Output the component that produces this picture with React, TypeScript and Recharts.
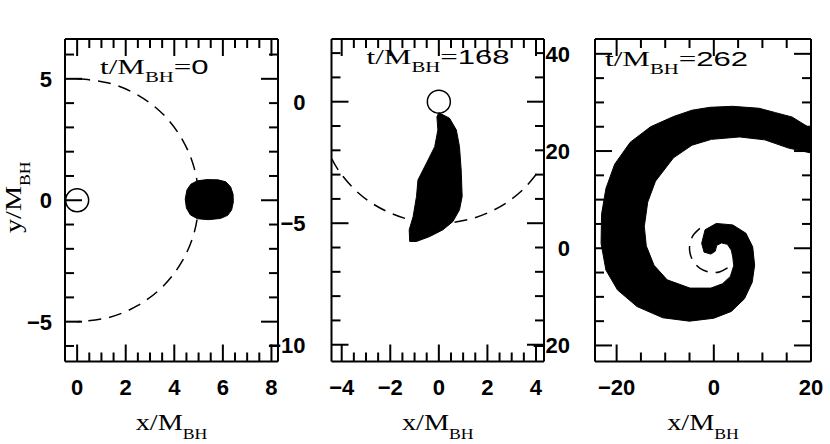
import React from "react";
import { ScatterChart, Scatter, XAxis, YAxis } from "recharts";

type Pt = { x: number; y: number };

// ---- panel 1 : t/M_BH = 0 ----
const p1Time = "0";
const p1Star: Pt[] = [
  { x: 4.45, y: 0.05 }, { x: 4.52, y: 0.42 }, { x: 4.68, y: 0.66 }, { x: 4.95, y: 0.8 },
  { x: 5.35, y: 0.85 }, { x: 5.8, y: 0.84 }, { x: 6.12, y: 0.76 }, { x: 6.32, y: 0.55 },
  { x: 6.42, y: 0.25 }, { x: 6.43, y: -0.08 }, { x: 6.36, y: -0.4 }, { x: 6.2, y: -0.62 },
  { x: 5.9, y: -0.75 }, { x: 5.4, y: -0.8 }, { x: 4.95, y: -0.76 }, { x: 4.66, y: -0.6 },
  { x: 4.5, y: -0.32 },
];
const p1Orbit: Pt[] = [
  { x: 0, y: 5 }, { x: 1.29, y: 4.83 }, { x: 2.5, y: 4.33 }, { x: 3.54, y: 3.54 },
  { x: 4.33, y: 2.5 }, { x: 4.83, y: 1.29 }, { x: 5, y: 0 }, { x: 4.83, y: -1.29 },
  { x: 4.33, y: -2.5 }, { x: 3.54, y: -3.54 }, { x: 2.5, y: -4.33 }, { x: 1.29, y: -4.83 },
  { x: 0, y: -5 },
];
const p1Hole: Pt[] = [{ x: 0, y: 0 }];
const p1XTicks = [0, 0.5, 1, 1.5, 2, 2.5, 3, 3.5, 4, 4.5, 5, 5.5, 6, 6.5, 7, 7.5, 8];
const p1XLabels = [0, 2, 4, 6, 8];
const p1YTicks = [-6, -5, -4, -3, -2, -1, 0, 1, 2, 3, 4, 5, 6];
const p1YLabels = [-5, 0, 5];

// ---- panel 2 : t/M_BH = 168 ----
const p2Time = "168";
const p2Star: Pt[] = [
  { x: 0.0, y: -0.45 }, { x: 0.44, y: -0.68 }, { x: 0.72, y: -1.16 }, { x: 0.85, y: -1.85 },
  { x: 0.92, y: -2.81 }, { x: 0.96, y: -3.9 }, { x: 0.85, y: -4.45 }, { x: 0.58, y: -4.93 },
  { x: 0.17, y: -5.27 }, { x: -0.38, y: -5.55 }, { x: -0.92, y: -5.75 }, { x: -1.2, y: -5.75 },
  { x: -1.22, y: -5.27 }, { x: -1.06, y: -4.73 }, { x: -0.92, y: -3.9 }, { x: -0.86, y: -3.22 },
  { x: -0.51, y: -2.53 }, { x: -0.17, y: -1.85 }, { x: -0.04, y: -1.16 }, { x: -0.08, y: -0.62 },
];
const p2Orbit: Pt[] = [
  { x: -4.41, y: -2.35 }, { x: -4.1, y: -2.87 }, { x: -3.54, y: -3.54 }, { x: -2.87, y: -4.1 },
  { x: -2.11, y: -4.53 }, { x: -1.29, y: -4.83 }, { x: -0.44, y: -4.98 }, { x: 0.44, y: -4.98 },
  { x: 1.29, y: -4.83 }, { x: 2.11, y: -4.53 }, { x: 2.87, y: -4.1 }, { x: 3.54, y: -3.54 },
  { x: 4.05, y: -2.94 },
];
const p2Hole: Pt[] = [{ x: 0, y: 0 }];
const p2XTicks = [-4, -3.5, -3, -2.5, -2, -1.5, -1, -0.5, 0, 0.5, 1, 1.5, 2, 2.5, 3, 3.5, 4];
const p2XLabels = [-4, -2, 0, 2, 4];
const p2YTicks = [-10, -9, -8, -7, -6, -5, -4, -3, -2, -1, 0, 1, 2];
const p2YLabels = [-10, -5, 0];

// ---- panel 3 : t/M_BH = 262 ----
const p3Time = "262";
const p3Star: Pt[] = [
  // outer edge of the arm, from the tail inwards
  { x: 20.0, y: 24.6 }, { x: 16.1, y: 27.0 }, { x: 12.7, y: 27.9 }, { x: 9.3, y: 28.8 },
  { x: 3.9, y: 29.2 }, { x: -0.8, y: 29.0 }, { x: -4.5, y: 28.4 }, { x: -8.3, y: 27.1 },
  { x: -13.0, y: 25.0 }, { x: -17.2, y: 21.8 }, { x: -20.4, y: 17.3 }, { x: -22.2, y: 12.3 },
  { x: -23.1, y: 7.0 }, { x: -23.2, y: 1.0 }, { x: -22.2, y: -4.5 }, { x: -19.8, y: -8.6 },
  { x: -15.8, y: -12.0 }, { x: -10.5, y: -14.3 }, { x: -5.0, y: -15.0 }, { x: 0, y: -14.4 },
  { x: 3.6, y: -13.0 }, { x: 6.3, y: -10.4 }, { x: 7.9, y: -7.0 }, { x: 8.4, y: -3.5 },
  { x: 8.0, y: 0.3 }, { x: 6.6, y: 3.1 }, { x: 3.9, y: 4.8 }, { x: 0.5, y: 5.1 },
  { x: -1.8, y: 3.8 }, { x: -2.5, y: 1.0 }, { x: -2.0, y: -0.8 }, { x: -0.6, y: -1.2 },
  { x: 0.3, y: -0.6 },
  // inner edge, back out to the tail
  { x: 0.6, y: 0.6 }, { x: 1.6, y: 1.1 }, { x: 2.8, y: 0.8 }, { x: 3.6, y: -0.4 },
  { x: 3.9, y: -1.8 }, { x: 4.1, y: -3.6 }, { x: 3.4, y: -5.8 }, { x: 1.8, y: -7.3 },
  { x: -0.6, y: -8.2 }, { x: -4.9, y: -8.2 }, { x: -9.6, y: -6.5 }, { x: -12.3, y: -3.5 },
  { x: -13.9, y: 0.5 }, { x: -14.3, y: 4.5 }, { x: -13.6, y: 9.5 }, { x: -12.0, y: 13.8 },
  { x: -8.3, y: 18.6 }, { x: -4.5, y: 21.2 }, { x: -0.5, y: 22.4 }, { x: 5.3, y: 22.9 },
  { x: 10.5, y: 22.3 }, { x: 15.4, y: 20.6 }, { x: 20.0, y: 19.6 },
];
const p3Orbit: Pt[] = [
  { x: -2.87, y: 4.1 }, { x: -4.1, y: 2.87 }, { x: -4.83, y: 1.29 }, { x: -4.98, y: -0.44 },
  { x: -4.53, y: -2.11 }, { x: -3.54, y: -3.54 }, { x: -2.11, y: -4.53 }, { x: -0.44, y: -4.98 },
  { x: 1.29, y: -4.83 }, { x: 3.28, y: -3.77 },
];
const p3Hole: Pt[] = [];
const p3XTicks = [-20, -15, -10, -5, 0, 5, 10, 15, 20];
const p3XLabels = [-20, 0, 20];
const p3YTicks = [-20, -15, -10, -5, 0, 5, 10, 15, 20, 25, 30, 35, 40];
const p3YLabels = [-20, 0, 20, 40];

const SERIF = "'Liberation Serif', 'Times New Roman', serif";
const SANS = "'Liberation Sans', Arial, sans-serif";
const MAJOR = 17;
const MINOR = 9;

const fmt = (v: number) => (v < 0 ? `\u2212${-v}` : String(v));

const noDot = () => <g />;

const fillPath = (p: any) => {
  const pts: { x: number; y: number }[] = p.points || [];
  if (!pts.length) return <g />;
  const d = pts.map((q, i) => `${i === 0 ? "M" : "L"}${q.x},${q.y}`).join(" ") + " Z";
  return <path d={d} fill="#000" stroke="#000" strokeWidth={1} strokeLinejoin="round" />;
};

const holeShape = (p: any) => (
  <circle cx={p.cx} cy={p.cy} r={11.5} fill="none" stroke="#000" strokeWidth={1.5} />
);

interface PanelProps {
  left: number;
  width: number;
  margin: { top: number; right: number; bottom: number; left: number };
  xDomain: [number, number];
  yDomain: [number, number];
  xTicks: number[];
  xLabels: number[];
  yTicks: number[];
  yLabels: number[];
  labelGap: number;
  time: string;
  titleDx: number;
  titleDy: number;
  star: Pt[];
  orbit: Pt[];
  hole: Pt[];
  yTitle?: boolean;
}

const Panel: React.FC<PanelProps> = (c) => {
  const bottomTick = (p: any) => {
    const v = p.payload.value;
    const major = c.xLabels.includes(v);
    return (
      <g>
        <line x1={p.x} x2={p.x} y1={p.y} y2={p.y - (major ? MAJOR : MINOR)} stroke="#000" strokeWidth={2} />
        {major && (
          <text x={p.x} y={p.y + 33} textAnchor="middle" fontFamily={SANS} fontWeight="bold" fontSize={22} fill="#000">
            {fmt(v)}
          </text>
        )}
      </g>
    );
  };
  const topTick = (p: any) => {
    const major = c.xLabels.includes(p.payload.value);
    return <line x1={p.x} x2={p.x} y1={p.y} y2={p.y + (major ? MAJOR : MINOR)} stroke="#000" strokeWidth={2} />;
  };
  const leftTick = (p: any) => {
    const v = p.payload.value;
    const major = c.yLabels.includes(v);
    return (
      <g>
        <line x1={p.x} x2={p.x + (major ? MAJOR : MINOR)} y1={p.y} y2={p.y} stroke="#000" strokeWidth={2} />
        {major && (
          <text x={p.x - c.labelGap} y={p.y + 8} textAnchor="end" fontFamily={SANS} fontWeight="bold" fontSize={22} fill="#000">
            {fmt(v)}
          </text>
        )}
      </g>
    );
  };
  const rightTick = (p: any) => {
    const major = c.yLabels.includes(p.payload.value);
    return <line x1={p.x} x2={p.x - (major ? MAJOR : MINOR)} y1={p.y} y2={p.y} stroke="#000" strokeWidth={2} />;
  };

  const plotW = c.width - c.margin.left - c.margin.right - 2;
  const plotBottom = 444 - c.margin.bottom - 1;

  const xTitle = (p: any) => {
    const vb = p.viewBox || {};
    const x0 = (vb.x ?? c.margin.left + 1) + (vb.width ?? plotW) / 2;
    const y0 = plotBottom + 68.5;
    return (
      <text transform={`translate(${x0},${y0}) scale(1.18,1)`} textAnchor="middle" fontFamily={SERIF} fontSize={24} fill="#000">
        x/M<tspan dy={9} fontSize={15}>BH</tspan>
      </text>
    );
  };

  const title = () => {
    const x0 = c.margin.left + 1 + c.titleDx;
    const y0 = c.margin.top + 1 + c.titleDy;
    return (
      <text transform={`translate(${x0},${y0}) scale(1.48,1)`} fontFamily={SERIF} fontSize={21} fill="#000">
        t/M<tspan dy={8} fontSize={14}>BH</tspan>
        <tspan dy={-8}>=</tspan>
        <tspan fontFamily={SANS}>{c.time}</tspan>
      </text>
    );
  };

  const yTitle = () => {
    const y0 = c.margin.top + 1 + (plotBottom - c.margin.top - 1) / 2 - 3;
    return (
      <text transform={`translate(21,${y0}) rotate(-90) scale(1.18,1)`} textAnchor="middle" fontFamily={SERIF} fontSize={24} fill="#000">
        y/M<tspan dy={9} fontSize={15}>BH</tspan>
      </text>
    );
  };

  const axisLine = { stroke: "#000", strokeWidth: 2 };

  return (
    <div style={{ position: "absolute", left: c.left, top: 0 }}>
      <ScatterChart width={c.width} height={444} margin={c.margin}>
        <XAxis
          xAxisId="b" dataKey="x" type="number" orientation="bottom" domain={c.xDomain} allowDataOverflow
          ticks={c.xTicks} interval={0} height={1} tickSize={0} tickMargin={0} tickLine={false}
          axisLine={axisLine} tick={bottomTick} label={xTitle}
        />
        <XAxis
          xAxisId="t" dataKey="x" type="number" orientation="top" domain={c.xDomain} allowDataOverflow
          ticks={c.xTicks} interval={0} height={1} tickSize={0} tickMargin={0} tickLine={false}
          axisLine={axisLine} tick={topTick} label={title}
        />
        <YAxis
          yAxisId="l" dataKey="y" type="number" orientation="left" domain={c.yDomain} allowDataOverflow
          ticks={c.yTicks} interval={0} width={1} tickSize={0} tickMargin={0} tickLine={false}
          axisLine={axisLine} tick={leftTick} label={c.yTitle ? yTitle : undefined}
        />
        <YAxis
          yAxisId="r" dataKey="y" type="number" orientation="right" domain={c.yDomain} allowDataOverflow
          ticks={c.yTicks} interval={0} width={1} tickSize={0} tickMargin={0} tickLine={false}
          axisLine={axisLine} tick={rightTick}
        />
        <Scatter
          data={c.orbit} xAxisId="b" yAxisId="l" shape={noDot} lineJointType="natural"
          line={{ stroke: "#000", strokeWidth: 1.5, strokeDasharray: "13 8" }} isAnimationActive={false}
        />
        <Scatter data={c.star} xAxisId="b" yAxisId="l" shape={noDot} line={fillPath} isAnimationActive={false} />
        <Scatter data={c.hole} xAxisId="b" yAxisId="l" shape={holeShape} isAnimationActive={false} />
      </ScatterChart>
    </div>
  );
};

export default function App() {
  return (
    <div style={{ position: "absolute", left: 0, top: 0, width: 830, height: 444, background: "#fff" }}>
      <Panel
        left={0} width={300} margin={{ top: 38, right: 21, bottom: 81.5, left: 64 }}
        xDomain={[-0.5, 8.27]} yDomain={[-6.64, 6.64]}
        xTicks={p1XTicks} xLabels={p1XLabels} yTicks={p1YTicks} yLabels={p1YLabels}
        labelGap={13} time={p1Time} titleDx={35} titleDy={35}
        star={p1Star} orbit={p1Orbit} hole={p1Hole} yTitle
      />
      <Panel
        left={240} width={320} margin={{ top: 38, right: 15, bottom: 81.5, left: 90.5 }}
        xDomain={[-4.42, 4.33]} yDomain={[-10.69, 2.58]}
        xTicks={p2XTicks} xLabels={p2XLabels} yTicks={p2YTicks} yLabels={p2YLabels}
        labelGap={26} time={p2Time} titleDx={35} titleDy={25}
        star={p2Star} orbit={p2Orbit} hole={p2Hole}
      />
      <Panel
        left={510} width={320} margin={{ top: 38, right: 18, bottom: 81.5, left: 84 }}
        xDomain={[-24.45, 20]} yDomain={[-23.3, 43.05]}
        xTicks={p3XTicks} xLabels={p3XLabels} yTicks={p3YTicks} yLabels={p3YLabels}
        labelGap={25} time={p3Time} titleDx={10} titleDy={27}
        star={p3Star} orbit={p3Orbit} hole={p3Hole}
      />
    </div>
  );
}
